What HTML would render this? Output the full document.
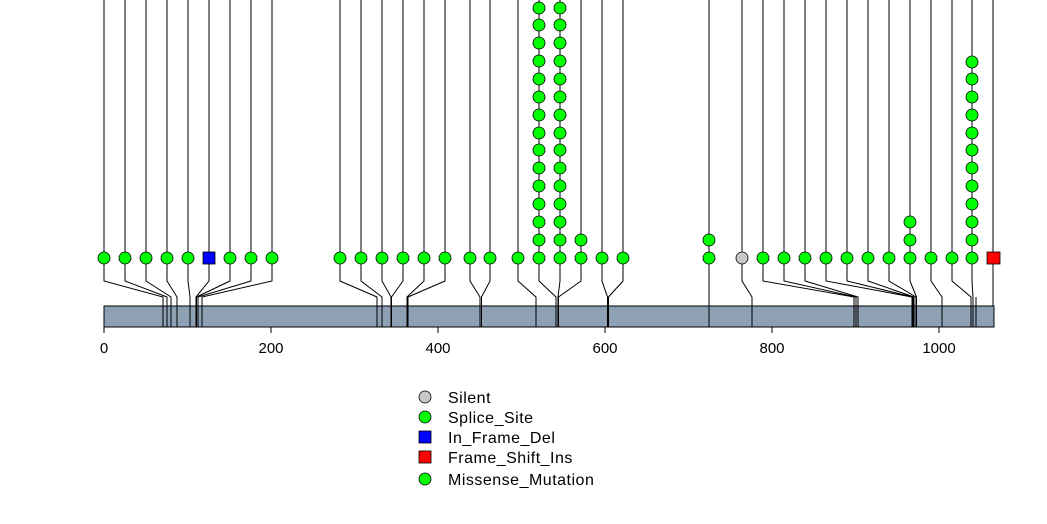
<!DOCTYPE html>
<html><head><meta charset="utf-8"><style>
html,body{margin:0;padding:0;background:#fff;}
svg{display:block;}
text{font-family:"Liberation Sans",sans-serif;font-size:15px;fill:#000;}
.lg{font-size:16px;letter-spacing:0.5px;}
</style></head><body>
<svg width="1047" height="524" viewBox="0 0 1047 524" xmlns="http://www.w3.org/2000/svg">
<rect x="104" y="306" width="890" height="21" fill="#8da0b4" stroke="#000" stroke-width="1"/>
<path fill="none" stroke="#000" stroke-width="1" d="
M104,0V281L163,297V327 M125,0V281L167,297V327 M146,0V281L171,297V327 M167,0V281L177,297V327
M188,0V281L190,297V327 M209,0V281L196,297V327 M230,0V281L196.5,297V327 M251,0V281L198,297V327
M272,0V281L202,297V327
M340,0V281L377,297V327 M361,0V281L382,297V327 M382,0V281L391,297V327 M403,0V281L391.5,297V327
M424,0V281L407,297V327 M445,0V281L408,297V327
M470,0V281L480,297V327 M490,0V281L481.5,297V327 M518,0V281L536,297V327 M539,0V281L556,297V327
M560,0V281L558,297V327 M581,0V281L558.5,297V327 M602,0V281L607.5,297V327 M623,0V281L608.5,297V327
M709,0V327
M742,0V281L752,297V327 M763,0V281L854,297V327 M784,0V281L856,297V327 M805,0V281L858,297V327
M826,0V281L912,297V327 M847,0V281L913,297V327 M868,0V281L914,297V327 M889,0V281L916,297V327
M910,0V281L916.5,297V327 M931,0V281L942,297V327 M952,0V281L971,297V327 M972,0V281L973,297V327
M976,297V327 M993,0V306
"/>
<g stroke="#000" stroke-width="1">
<line x1="104" y1="327" x2="104" y2="333"/><line x1="271" y1="327" x2="271" y2="333"/>
<line x1="438" y1="327" x2="438" y2="333"/><line x1="605" y1="327" x2="605" y2="333"/>
<line x1="772" y1="327" x2="772" y2="333"/><line x1="939" y1="327" x2="939" y2="333"/>
</g>
<g text-anchor="middle">
<text x="104" y="353">0</text><text x="271" y="353">200</text><text x="438" y="353">400</text>
<text x="605" y="353">600</text><text x="772" y="353">800</text><text x="939" y="353">1000</text>
</g>
<g fill="#00ff00" stroke="#000" stroke-width="0.8">
<circle cx="104" cy="258" r="6"/><circle cx="125" cy="258" r="6"/><circle cx="146" cy="258" r="6"/>
<circle cx="167" cy="258" r="6"/><circle cx="188" cy="258" r="6"/><circle cx="230" cy="258" r="6"/>
<circle cx="251" cy="258" r="6"/><circle cx="272" cy="258" r="6"/>
<circle cx="340" cy="258" r="6"/><circle cx="361" cy="258" r="6"/><circle cx="382" cy="258" r="6"/>
<circle cx="403" cy="258" r="6"/><circle cx="424" cy="258" r="6"/><circle cx="445" cy="258" r="6"/>
<circle cx="470" cy="258" r="6"/><circle cx="490" cy="258" r="6"/><circle cx="518" cy="258" r="6"/>
<circle cx="602" cy="258" r="6"/><circle cx="623" cy="258" r="6"/>
<circle cx="581" cy="258" r="6"/><circle cx="581" cy="240" r="6"/>
<circle cx="709" cy="258" r="6"/><circle cx="709" cy="240" r="6"/>
<circle cx="763" cy="258" r="6"/><circle cx="784" cy="258" r="6"/><circle cx="805" cy="258" r="6"/>
<circle cx="826" cy="258" r="6"/><circle cx="847" cy="258" r="6"/><circle cx="868" cy="258" r="6"/>
<circle cx="889" cy="258" r="6"/><circle cx="931" cy="258" r="6"/><circle cx="952" cy="258" r="6"/>
<circle cx="910" cy="258" r="6"/><circle cx="910" cy="240" r="6"/><circle cx="910" cy="222" r="6"/>
<circle cx="539" cy="258" r="6"/><circle cx="539" cy="240" r="6"/><circle cx="539" cy="222" r="6"/><circle cx="539" cy="204" r="6"/><circle cx="539" cy="186" r="6"/><circle cx="539" cy="168" r="6"/><circle cx="539" cy="150" r="6"/><circle cx="539" cy="133" r="6"/><circle cx="539" cy="115" r="6"/><circle cx="539" cy="97" r="6"/><circle cx="539" cy="79" r="6"/><circle cx="539" cy="61" r="6"/><circle cx="539" cy="43" r="6"/><circle cx="539" cy="25" r="6"/><circle cx="539" cy="8" r="6"/>
<circle cx="560" cy="258" r="6"/><circle cx="560" cy="240" r="6"/><circle cx="560" cy="222" r="6"/><circle cx="560" cy="204" r="6"/><circle cx="560" cy="186" r="6"/><circle cx="560" cy="168" r="6"/><circle cx="560" cy="150" r="6"/><circle cx="560" cy="133" r="6"/><circle cx="560" cy="115" r="6"/><circle cx="560" cy="97" r="6"/><circle cx="560" cy="79" r="6"/><circle cx="560" cy="61" r="6"/><circle cx="560" cy="43" r="6"/><circle cx="560" cy="25" r="6"/><circle cx="560" cy="8" r="6"/>
<circle cx="972" cy="258" r="6"/><circle cx="972" cy="240" r="6"/><circle cx="972" cy="222" r="6"/><circle cx="972" cy="204" r="6"/><circle cx="972" cy="186" r="6"/><circle cx="972" cy="168" r="6"/><circle cx="972" cy="150" r="6"/><circle cx="972" cy="133" r="6"/><circle cx="972" cy="115" r="6"/><circle cx="972" cy="97" r="6"/><circle cx="972" cy="79" r="6"/><circle cx="972" cy="62" r="6"/>
</g>
<circle cx="742" cy="258" r="6" fill="#c8c8c8" stroke="#000" stroke-width="0.8"/>
<rect x="203" y="252" width="12" height="12" fill="#0000ff" stroke="#000" stroke-width="0.8"/>
<rect x="987" y="252" width="13" height="12" fill="#ff0000" stroke="#000" stroke-width="0.8"/>
<circle cx="425" cy="397" r="6" fill="#c8c8c8" stroke="#000" stroke-width="0.8"/>
<circle cx="425" cy="417" r="6" fill="#00ff00" stroke="#000" stroke-width="0.8"/>
<rect x="419" y="431" width="12" height="12" fill="#0000ff" stroke="#000" stroke-width="0.8"/>
<rect x="419" y="451" width="12" height="12" fill="#ff0000" stroke="#000" stroke-width="0.8"/>
<circle cx="425" cy="479" r="6" fill="#00ff00" stroke="#000" stroke-width="0.8"/>
<text class="lg" x="448" y="403">Silent</text>
<text class="lg" x="448" y="423">Splice_Site</text>
<text class="lg" x="448" y="443">In_Frame_Del</text>
<text class="lg" x="448" y="463">Frame_Shift_Ins</text>
<text class="lg" x="448" y="485">Missense_Mutation</text>
</svg>
</body></html>
